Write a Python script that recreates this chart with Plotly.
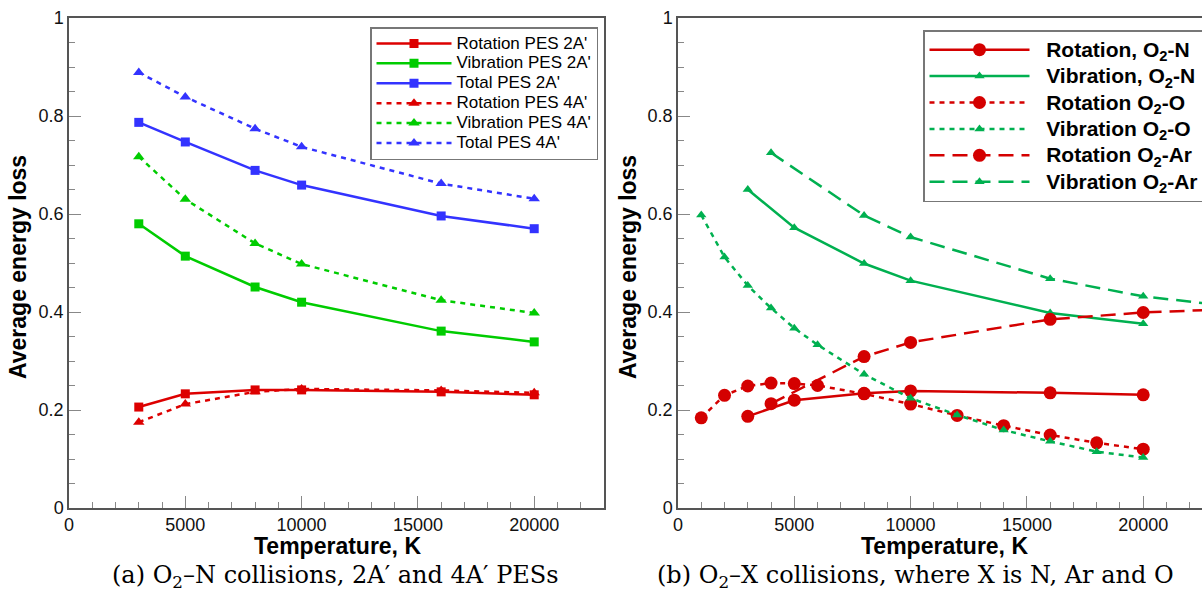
import plotly.graph_objects as go

# ---------------- panel (a): O2-N, 2A' and 4A' PESs ----------------
temps_a = [3000, 5000, 8000, 10000, 16000, 20000]
rot_2a = [0.206, 0.233, 0.241, 0.241, 0.237, 0.231]
vib_2a = [0.580, 0.514, 0.451, 0.420, 0.361, 0.339]
tot_2a = [0.787, 0.747, 0.689, 0.659, 0.596, 0.570]
rot_4a = [0.175, 0.212, 0.237, 0.243, 0.240, 0.235]
vib_4a = [0.717, 0.630, 0.540, 0.498, 0.424, 0.398]
tot_4a = [0.889, 0.839, 0.774, 0.737, 0.662, 0.631]

# ---------------- panel (b): O2-X, X = N, O, Ar ----------------
temps_n = [3000, 5000, 8000, 10000, 16000, 20000]
rot_n = [0.187, 0.220, 0.234, 0.239, 0.235, 0.231]
vib_n = [0.650, 0.572, 0.499, 0.464, 0.398, 0.376]

temps_o_rot = [1000, 2000, 3000, 4000, 5000, 6000, 8000, 10000, 12000, 14000, 16000, 18000, 20000]
rot_o = [0.184, 0.230, 0.249, 0.255, 0.254, 0.250, 0.233, 0.212, 0.189, 0.168, 0.149, 0.133, 0.120]
temps_o_vib = [1000, 2000, 3000, 4000, 5000, 6000, 8000, 10000, 12000, 14000, 16000, 18000, 20000]
vib_o = [0.598, 0.512, 0.454, 0.408, 0.367, 0.333, 0.273, 0.224, 0.190, 0.159, 0.136, 0.115, 0.103]

temps_ar = [4000, 8000, 10000, 16000, 20000, 25000]
rot_ar = [0.213, 0.309, 0.338, 0.385, 0.399, 0.408]
vib_ar = [0.725, 0.597, 0.553, 0.468, 0.432, 0.405]

y_ticks = [0, 0.2, 0.4, 0.6, 0.8, 1]
y_ticktext = ["0", "0.2", "0.4", "0.6", "0.8", "1"]

W, H = 1202, 595
# plot frames in pixels
A_X0, A_X1 = 69, 604
B_X0, B_X1 = 678, 1202
Y_TOP, Y_BOT = 18, 508
PX_PER_K = (A_X1 - A_X0) / 23000.0

RED_A, GREEN_A, BLUE_A = "#dd0000", "#00cc00", "#3333ff"
RED_B, GREEN_B = "#d40000", "#00b050"
DOT = "5px,5px"
LONG = "15px,8px"

SANS = "Liberation Sans, Arial, sans-serif"
NB = "\u00a0"

fig = go.Figure()


def add(x, y, name, color, symbol, size, dash, axis, legend):
    fig.add_trace(go.Scatter(
        x=x, y=y, name=name, mode="lines+markers",
        line=dict(color=color, width=2.5, dash=dash),
        marker=dict(color=color, symbol=symbol, size=size),
        xaxis="x" if axis == 1 else "x2",
        yaxis="y" if axis == 1 else "y2",
        legend=legend,
    ))


def small(t):
    return '<span style="font-size:17px">' + t + "</span>"


def big(t):
    return '<span style="font-size:21px"><b>' + NB + NB + t + "</b></span>"


add(temps_a, rot_2a, small("Rotation PES 2A'"), RED_A, "square", 9, "solid", 1, "legend")
add(temps_a, vib_2a, small("Vibration PES 2A'"), GREEN_A, "square", 9, "solid", 1, "legend")
add(temps_a, tot_2a, small("Total PES 2A'"), BLUE_A, "square", 9, "solid", 1, "legend")
add(temps_a, rot_4a, small("Rotation PES 4A'"), RED_A, "triangle-up", 10, DOT, 1, "legend")
add(temps_a, vib_4a, small("Vibration PES 4A'"), GREEN_A, "triangle-up", 10, DOT, 1, "legend")
add(temps_a, tot_4a, small("Total PES 4A'"), BLUE_A, "triangle-up", 10, DOT, 1, "legend")

add(temps_n, rot_n, big("Rotation, O<sub>2</sub>-N"), RED_B, "circle", 13, "solid", 2, "legend2")
add(temps_n, vib_n, big("Vibration, O<sub>2</sub>-N"), GREEN_B, "triangle-up", 9, "solid", 2, "legend2")
add(temps_o_rot, rot_o, big("Rotation O<sub>2</sub>-O"), RED_B, "circle", 13, DOT, 2, "legend2")
add(temps_o_vib, vib_o, big("Vibration O<sub>2</sub>-O"), GREEN_B, "triangle-up", 9, DOT, 2, "legend2")
add(temps_ar, rot_ar, big("Rotation O<sub>2</sub>-Ar"), RED_B, "circle", 13, LONG, 2, "legend2")
add(temps_ar, vib_ar, big("Vibration O<sub>2</sub>-Ar"), GREEN_B, "triangle-up", 9, LONG, 2, "legend2")

FRAME = "#555555"
TICK = "#888888"
TICKFONT = dict(family=SANS, size=18, color="#111111")
TITLEFONT = dict(family=SANS, size=23, color="#000000")


def xaxis(x0, x1, anchor):
    return dict(
        domain=[x0 / W, x1 / W], range=[0, (x1 - x0) / PX_PER_K], anchor=anchor,
        tickmode="linear", tick0=0, dtick=5000, tickformat="d",
        ticks="inside", ticklen=12, tickwidth=1.2, tickcolor=TICK,
        minor=dict(dtick=1000, ticks="inside", ticklen=6, tickwidth=1.2, tickcolor=TICK),
        showline=True, linecolor=FRAME, linewidth=1.5, mirror=True,
        showgrid=False, zeroline=False, tickfont=TICKFONT,
        ticklabelstandoff=0, automargin=False,
    )


def yaxis(anchor, mirror):
    return dict(
        domain=[(H - Y_BOT) / H, (H - Y_TOP) / H], range=[0, 1], anchor=anchor,
        tickmode="array", tickvals=y_ticks, ticktext=y_ticktext,
        ticks="inside", ticklen=12, tickwidth=1.2, tickcolor=TICK,
        minor=dict(dtick=0.05, ticks="inside", ticklen=6, tickwidth=1.2, tickcolor=TICK),
        showline=True, linecolor=FRAME, linewidth=1.5, mirror=mirror,
        showgrid=False, zeroline=False, tickfont=TICKFONT, automargin=False,
    )


CAPFONT = dict(family="DejaVu Serif, Liberation Serif, serif", size=24, color="#000000")


def label(text, xpx, ypx, font, angle=0):
    return dict(text=text, x=xpx / W, y=(H - ypx) / H, xref="paper", yref="paper",
                showarrow=False, font=font, xanchor="center", yanchor="middle",
                textangle=angle)


Y_MID = (Y_TOP + Y_BOT) / 2 + 4

fig.update_layout(
    template="none",
    width=W, height=H,
    margin=dict(l=0, r=0, t=0, b=0, autoexpand=False),
    paper_bgcolor="white", plot_bgcolor="white",
    xaxis=xaxis(A_X0, A_X1, "y"), yaxis=yaxis("x", True),
    xaxis2=xaxis(B_X0, B_X1, "y2"), yaxis2=yaxis("x2", False),
    legend=dict(
        x=598 / W, y=(H - 27) / H, xanchor="right", yanchor="top",
        bgcolor="white", bordercolor="#777777", borderwidth=1.5,
        font=dict(family=SANS, size=13, color="#000000"),
        itemwidth=75, tracegroupgap=0,
    ),
    legend2=dict(
        x=923 / W, y=(H - 30) / H, xanchor="left", yanchor="top",
        bgcolor="white", bordercolor="#777777", borderwidth=1.5,
        font=dict(family=SANS, size=18, color="#000000"),
        itemwidth=100, tracegroupgap=0,
    ),
    annotations=[
        label("<b>Average energy loss</b>", 18, Y_MID, TITLEFONT, -90),
        label("<b>Average energy loss</b>", 628, Y_MID, TITLEFONT, -90),
        label("<b>Temperature, K</b>", 338, 546, TITLEFONT),
        label("<b>Temperature, K</b>", 944, 546, TITLEFONT),
        label("(a) O<sub>2</sub>–N collisions, 2A′ and 4A′ PESs", 336, 576, CAPFONT),
        label("(b) O<sub>2</sub>–X collisions, where X is N, Ar and O", 915, 576, CAPFONT),
    ],
    showlegend=True,
)

fig.write_html("out.html")
